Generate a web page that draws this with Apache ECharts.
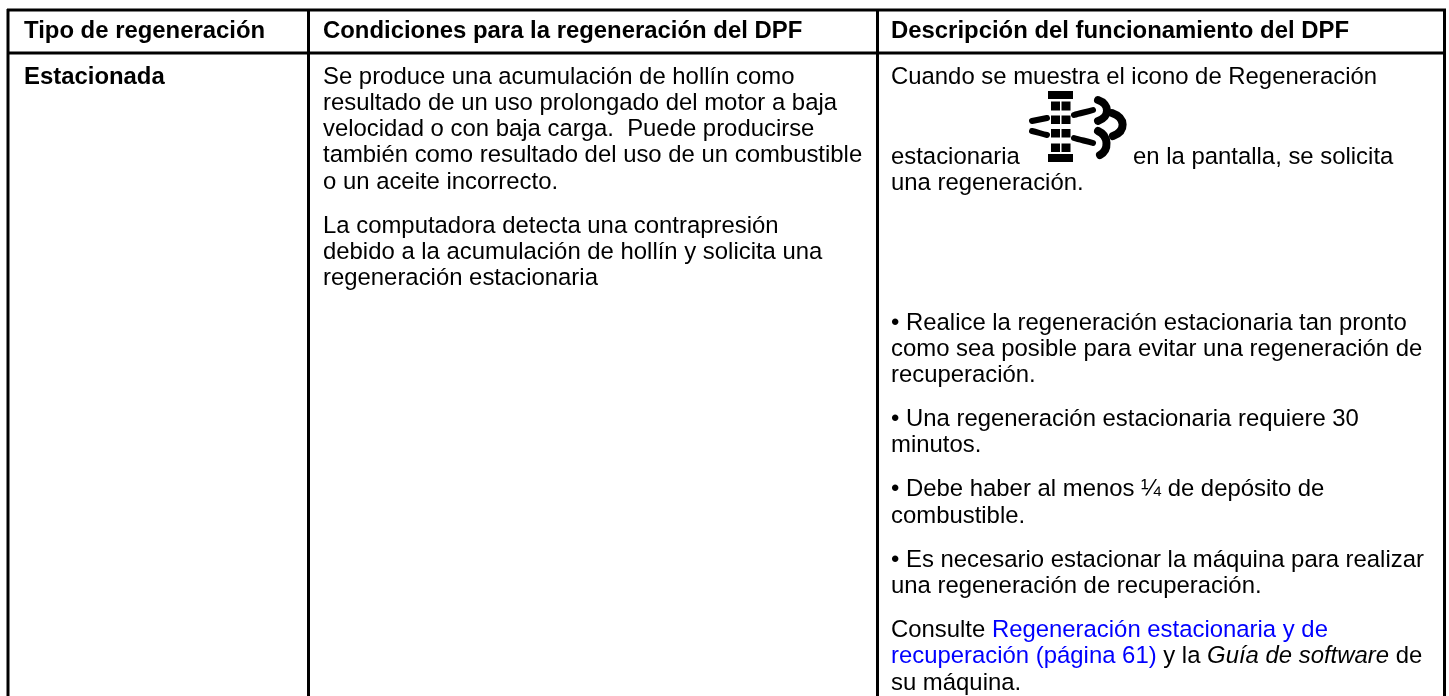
<!DOCTYPE html>
<html>
<head>
<meta charset="utf-8">
<style>
  html, body { margin: 0; padding: 0; background: #fff; }
  #main { width: 1449px; height: 696px; }
</style>
<script src="https://cdn.jsdelivr.net/npm/echarts@6/dist/echarts.min.js"></script>
</head>
<body>
<div id="main"></div>
<script>
// table text, one entry per printed line
const headers = ['Tipo de regeneración', 'Condiciones para la regeneración del DPF', 'Descripción del funcionamiento del DPF'];
const rowTitle = ['Estacionada'];
const conditions = [
  ['Se produce una acumulación de hollín como', 'resultado de un uso prolongado del motor a baja', 'velocidad o con baja carga.  Puede producirse', 'también como resultado del uso de un combustible', 'o un aceite incorrecto.'],
  ['La computadora detecta una contrapresión', 'debido a la acumulación de hollín y solicita una', 'regeneración estacionaria']
];
const intro = ['Cuando se muestra el icono de Regeneración'];
const introIcon = ['estacionaria', 'en la pantalla, se solicita', 'una regeneración.'];
const bullets = [
  ['• Realice la regeneración estacionaria tan pronto', 'como sea posible para evitar una regeneración de', 'recuperación.'],
  ['• Una regeneración estacionaria requiere 30', 'minutos.'],
  ['• Debe haber al menos ¼ de depósito de', 'combustible.'],
  ['• Es necesario estacionar la máquina para realizar', 'una regeneración de recuperación.']
];
const consult = ['Consulte {l|Regeneración estacionaria y de}', '{l|recuperación (página 61)} y la {i|Guía de software} de', 'su máquina.'];

const FONT = '"Liberation Sans", Arial, sans-serif';
const SIZE = 23.9;
const LINE = 26.3;
const GAP = 17.7;
const X = [24, 323, 891];

const items = [];
function add(x, y, text, bold) { items.push({ value: [x, y], text: text, bold: !!bold }); }
headers.forEach((h, i) => add(X[i], 31, h, true));
add(X[0], 77, rowTitle[0], true);
let y = 77;
conditions.forEach(p => { p.forEach(t => { add(X[1], y, t); y += LINE; }); y += GAP; });
add(X[2], 77, intro[0]);
add(X[2], 157, introIcon[0]);
add(1133, 157, introIcon[1]);
add(X[2], 183, introIcon[2]);
y = 323;
bullets.forEach(p => { p.forEach(t => { add(X[2], y, t); y += LINE; }); y += GAP; });
consult.forEach(t => { add(X[2], y, t); y += LINE; });

const rules = [
  [7, 10, 1446, 10], [7, 53, 1446, 53],
  [8, 9, 8, 696], [308.5, 9, 308.5, 696], [877.5, 9, 877.5, 696], [1444.5, 9, 1444.5, 696]
];

// regeneration icon: filter blocks and exhaust strokes
const iconBlocks = [
  [1048, 91, 25, 8], [1048, 154, 25, 8],
  [1051, 101.5, 9, 9], [1061.5, 101.5, 9, 9],
  [1051, 115.5, 9, 8.5], [1061.5, 115.5, 9, 8.5],
  [1051, 129, 9, 8.5], [1061.5, 129, 9, 8.5],
  [1051, 143.5, 9, 8.5], [1061.5, 143.5, 9, 8.5]
];
const iconStrokes = [
  [1032, 121, 1037, 120, 1042, 119, 1047, 118, 6],
  [1032, 131, 1037, 132, 1042, 134, 1047, 135, 6],
  [1074, 115, 1080, 113, 1087, 112, 1093, 110, 6],
  [1074, 138, 1080, 140, 1087, 141, 1093, 143, 6],
  [1098, 100, 1110, 104, 1110, 117, 1098, 121, 8],
  [1112, 113, 1126, 118, 1126, 131, 1113, 136, 8],
  [1098, 131, 1109, 136, 1109, 150, 1100, 155, 8]
];

const chart = echarts.init(document.getElementById('main'));
chart.setOption({
  animation: false,
  grid: { left: 0, right: 0, top: 0, bottom: 0 },
  xAxis: { type: 'value', min: 0, max: 1449, show: false },
  yAxis: { type: 'value', min: 0, max: 696, inverse: true, show: false },
  series: [
    {
      type: 'custom',
      silent: true,
      data: rules,
      renderItem: (params, api) => {
        const a = api.coord([api.value(0), api.value(1)]);
        const b = api.coord([api.value(2), api.value(3)]);
        return { type: 'line', shape: { x1: a[0], y1: a[1], x2: b[0], y2: b[1] }, style: { stroke: '#000', lineWidth: 3 } };
      }
    },
    {
      type: 'custom',
      silent: true,
      data: iconBlocks,
      renderItem: (params, api) => {
        const a = api.coord([api.value(0), api.value(1)]);
        return { type: 'rect', shape: { x: a[0], y: a[1], width: api.value(2), height: api.value(3) }, style: { fill: '#000' } };
      }
    },
    {
      type: 'custom',
      silent: true,
      data: iconStrokes,
      renderItem: (params, api) => {
        const p = [0, 2, 4, 6].map(i => api.coord([api.value(i), api.value(i + 1)]));
        return {
          type: 'bezierCurve',
          shape: { x1: p[0][0], y1: p[0][1], cpx1: p[1][0], cpy1: p[1][1], cpx2: p[2][0], cpy2: p[2][1], x2: p[3][0], y2: p[3][1] },
          style: { stroke: '#000', fill: null, lineWidth: api.value(8), lineCap: 'round' }
        };
      }
    },
    {
      type: 'custom',
      silent: true,
      data: items,
      encode: { x: 0, y: 1 },
      renderItem: (params, api) => {
        const it = items[params.dataIndex];
        const p = api.coord(it.value);
        return {
          type: 'text',
          x: p[0], y: p[1],
          style: {
            text: it.text,
            fill: '#000',
            font: (it.bold ? 'bold ' : '') + SIZE + 'px ' + FONT,
            verticalAlign: 'middle',
            rich: {
              l: { fill: '#0000ff', font: SIZE + 'px ' + FONT },
              i: { fill: '#000', font: 'italic ' + SIZE + 'px ' + FONT }
            }
          }
        };
      }
    }
  ]
});
</script>
</body>
</html>
